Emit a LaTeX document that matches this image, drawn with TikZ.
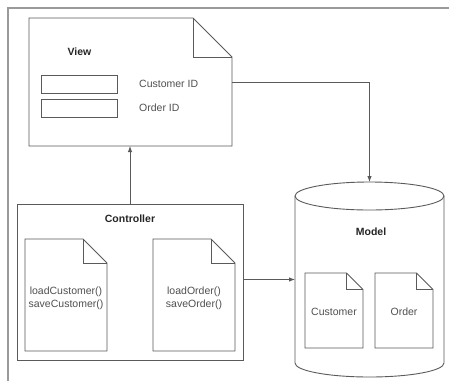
\documentclass[tikz,border=0pt]{standalone}
\usepackage{fontspec}
\setmainfont{Liberation Sans}
\usetikzlibrary{arrows.meta}
\definecolor{linegray}{HTML}{5A5A5A}
\definecolor{txtgray}{HTML}{505050}
\definecolor{framegray}{HTML}{9A9A9A}
\newcommand{\dogear}[2]{%
  \draw[docline] (#1.north west) -- ([xshift=-#2pt]#1.north east) -- ([yshift=-#2pt]#1.north east) -- (#1.south east) -- (#1.south west) -- cycle;
  \draw[docline] ([xshift=-#2pt]#1.north east) |- ([yshift=-#2pt]#1.north east);}
\tikzset{
  box/.style={rectangle, inner sep=0pt, outer sep=0pt},
  docline/.style={draw=linegray, line width=0.9pt, line join=miter},
  field/.style={box, draw=linegray, line width=0.9pt, minimum width=76pt, minimum height=18pt},
  lbl/.style={text=txtgray, font=\fontsize{10.5}{12.5}\selectfont, inner sep=0pt},
  ttl/.style={text=black!85, font=\bfseries\fontsize{10.5}{12.5}\selectfont, inner sep=0pt},
  conn/.style={draw=linegray, line width=0.9pt, -{Latex[length=6pt,width=4.5pt]}},
}
\begin{document}
\begin{tikzpicture}[x=1pt,y=-1pt]
\useasboundingbox (0,0) rectangle (449,381);
\fill[white] (0,0) rectangle (449,381);
% frame
\coordinate (ftr) at (449,8);
\coordinate (fc) at (8,8);
\coordinate (fbl) at (8,381);
\draw[framegray, line width=1.2pt] (ftr) -- (fc) -- (fbl);

% View
\node[box, minimum width=203pt, minimum height=128pt] (view) at (130.5,82) {};
\dogear{view}{39}
\node[ttl] (viewt) at (79.5,52) {View};
\node[field] (f1) at (79,84) {};
\node[field] (f2) at (79,108) {};
\node[lbl, anchor=west] (l1) at (139,84) {Customer ID};
\node[lbl, anchor=west] (l2) at (139,108) {Order ID};

% Controller
\node[box, draw=linegray, line width=0.9pt, minimum width=226pt, minimum height=156pt] (ctrl) at (130,282) {};
\node[ttl] (ctrlt) at (130,219) {Controller};
\node[box, minimum width=82pt, minimum height=112pt] (cdoc1) at (66,295) {};
\dogear{cdoc1}{24}
\node[box, minimum width=82pt, minimum height=112pt] (cdoc2) at (194,295) {};
\dogear{cdoc2}{24}
\node[lbl, align=center] (c1t) at (66,298.5) {loadCustomer()\\saveCustomer()};
\node[lbl, align=center] (c2t) at (194,298.5) {loadOrder()\\saveOrder()};

% Model cylinder
\node[box, minimum width=149pt, minimum height=195pt] (model) at (369.5,279.5) {};
\coordinate (tl) at ([yshift=-14pt]model.north west);
\coordinate (tr) at ([yshift=-14pt]model.north east);
\coordinate (bl) at ([yshift=14pt]model.south west);
\draw[docline, fill=white] (tl) -- (bl)
  arc[start angle=180, end angle=360, x radius=74.5pt, y radius=14pt]
  -- (tr)
  arc[start angle=0, end angle=180, x radius=74.5pt, y radius=14pt] -- cycle;
\draw[docline] (tl) arc[start angle=180, end angle=360, x radius=74.5pt, y radius=14pt];
\node[ttl] (modelt) at (371,232) {Model};
\node[box, minimum width=58pt, minimum height=75pt] (mdoc1) at (334,310.5) {};
\dogear{mdoc1}{16.5}
\node[box, minimum width=58pt, minimum height=75pt] (mdoc2) at (404,310.5) {};
\dogear{mdoc2}{16.5}
\node[lbl] (m1t) at (334,312) {Customer};
\node[lbl] (m2t) at (404,312) {Order};

% connectors
\draw[conn] (ctrl.north) -- (ctrl.north |- view.south);
\draw[conn] (view.east) -| (model.north);
\draw[conn] (model.west -| ctrl.east) -- (model.west);
\end{tikzpicture}
\end{document}
